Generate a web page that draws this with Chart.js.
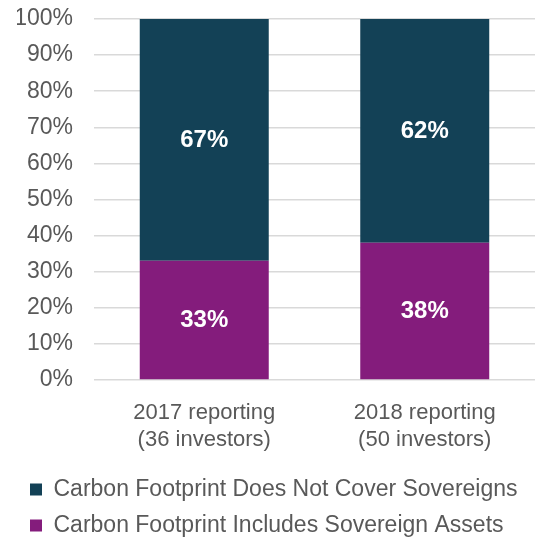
<!DOCTYPE html>
<html>
<head>
<meta charset="utf-8">
<script src="https://cdn.jsdelivr.net/npm/chart.js@4/dist/chart.umd.min.js"></script>
<style>
  html, body { margin: 0; padding: 0; background: #fff; }
  #wrap { width: 550px; height: 542px; }
</style>
</head>
<body>
<div id="wrap"><canvas id="chart"></canvas></div>
<script>
const categorias = [['2017 reporting', '(36 investors)'], ['2018 reporting', '(50 investors)']];
const incluyeSoberanos = [33, 38];
const noCubreSoberanos = [67, 62];
const ticksY = [0, 10, 20, 30, 40, 50, 60, 70, 80, 90, 100];

const fuente = "Arial, 'Liberation Sans', sans-serif";
const ctx = document.querySelector('#chart').getContext('2d');

const etiquetas = {
    id: 'etiquetas_barras',
    afterDatasetsDraw: (chart) => {
        const c = chart.ctx;
        c.save();
        c.fillStyle = '#ffffff';
        c.font = 'bold 24px ' + fuente;
        c.textAlign = 'center';
        c.textBaseline = 'middle';
        chart.data.datasets.forEach((ds, i) => {
            chart.getDatasetMeta(i).data.forEach((bar, j) => {
                const y = (bar.y + bar.base) / 2;
                c.fillText(ds.data[j] + '%', bar.x, y);
            });
        });
        c.restore();
    }
};

new Chart(ctx, {
    type: 'bar',
    data: {
        labels: categorias,
        datasets: [{
            label: 'Carbon Footprint Includes Sovereign Assets',
            data: incluyeSoberanos,
            backgroundColor: '#841c7c'
        }, {
            label: 'Carbon Footprint Does Not Cover Sovereigns',
            data: noCubreSoberanos,
            backgroundColor: '#134156'
        }]
    },
    plugins: [etiquetas],
    options: {
        responsive: true,
        maintainAspectRatio: false,
        animation: false,
        layout: {
            padding: { left: 17, right: 15, top: 19, bottom: -5 }
        },
        datasets: {
            bar: { categoryPercentage: 1, barPercentage: 0.585 }
        },
        scales: {
            x: {
                stacked: true,
                grid: { display: false },
                border: { display: false },
                afterFit: (scale) => { scale.paddingTop = 0; },
                ticks: {
                    color: '#595959',
                    padding: 11,
                    font: { family: fuente, size: 22, lineHeight: 1.25 }
                }
            },
            y: {
                stacked: true,
                min: 0,
                max: 100,
                afterBuildTicks: (scale) => {
                    scale.ticks = ticksY.map(v => ({ value: v }));
                },
                afterFit: (scale) => {
                    scale.width = 77;
                    scale.paddingTop = 0;
                    scale.paddingBottom = 0;
                },
                grid: { color: '#d9d9d9', lineWidth: 1.5, drawTicks: false },
                border: { display: false },
                ticks: {
                    color: '#595959',
                    padding: 21,
                    font: { family: fuente, size: 23 },
                    callback: (v) => v + '%'
                }
            }
        },
        plugins: {
            legend: {
                position: 'bottom',
                align: 'start',
                reverse: true,
                labels: {
                    color: '#595959',
                    boxWidth: 12,
                    boxHeight: 12,
                    padding: 13,
                    font: { family: fuente, size: 23 }
                }
            },
            tooltip: { enabled: false }
        }
    }
});
</script>
</body>
</html>
